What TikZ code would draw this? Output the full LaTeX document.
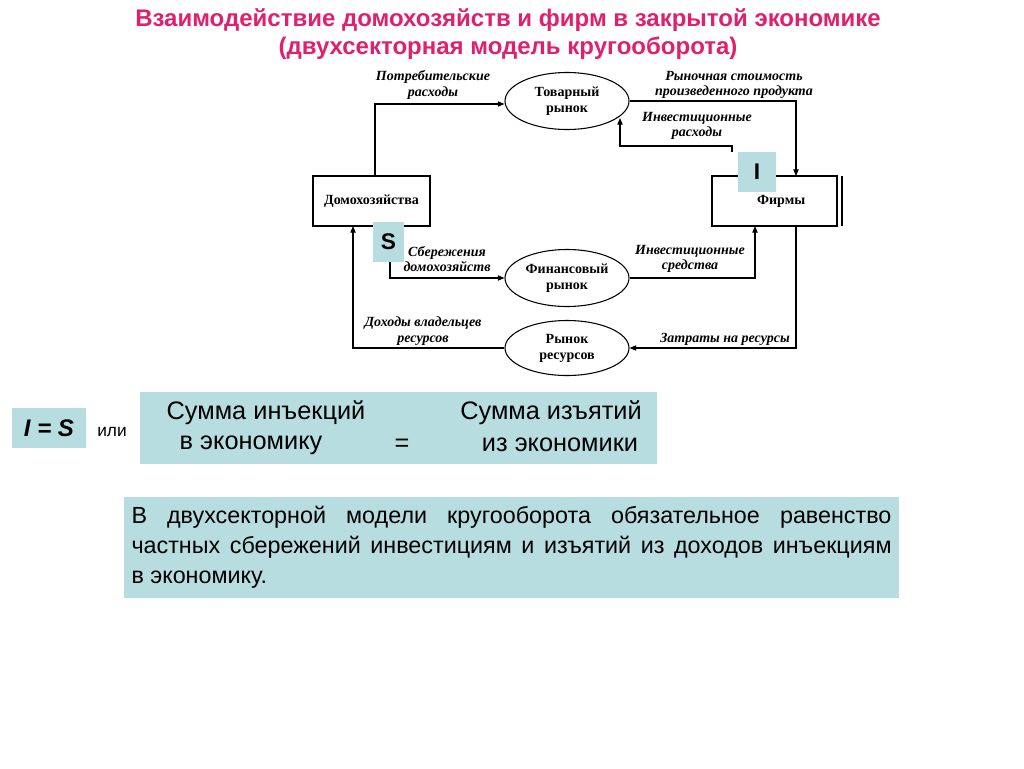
\documentclass[tikz,border=0pt]{standalone}
\usepackage{fontspec}
\setmainfont{Liberation Sans}
\newfontfamily\ser{Liberation Serif}
\usetikzlibrary{arrows.meta,shapes.geometric}
\definecolor{ttl}{HTML}{E0206E}
\definecolor{cyanbg}{HTML}{B7DDE0}
\begin{document}
\begin{tikzpicture}[x=0.75pt,y=-0.75pt,
  lab/.style={font=\ser\bfseries\itshape\fontsize{10.5}{11.5}\selectfont,align=center,inner sep=0},
  box/.style={draw,thick,fill=white,font=\ser\bfseries\fontsize{10.5}{12}\selectfont},
  ell/.style={draw,thick,ellipse,fill=white,font=\ser\bfseries\fontsize{10.5}{12}\selectfont,align=center,minimum width=124*0.75pt,minimum height=57*0.75pt,inner sep=0},
  arr/.style={thick,-{Triangle[length=5pt,width=4pt]}},
  tag/.style={fill=cyanbg,font=\bfseries\fontsize{17}{17}\selectfont,inner sep=0}]
\useasboundingbox (0,0) rectangle (1024,768);
\node[font=\bfseries\fontsize{18}{21}\selectfont,text=ttl,align=center] (title) at (508,34)
 {Взаимодействие домохозяйств и фирм в закрытой экономике\\(двухсекторная модель кругооборота)};
\node[box,minimum width=117*0.75pt,minimum height=50*0.75pt] (hh) at (371.5,201) {Домохозяйства};
\node[box,minimum width=125*0.75pt,minimum height=50*0.75pt] (ff) at (774.5,201) {\hspace*{10pt}Фирмы};
\draw[thick] (842,176) -- (842,226);
\node[ell] (gm) at (567,101) {Товарный\\рынок};
\node[ell] (fm) at (567,278) {Финансовый\\рынок};
\node[ell,minimum height=55*0.75pt] (rm) at (567,348) {Рынок\\ресурсов};
\node[tag,minimum width=31*0.75pt,minimum height=40*0.75pt] (S) at (388.5,242) {S};
\node[tag,minimum width=38*0.75pt,minimum height=40*0.75pt] (I) at (757,172) {I};
\draw[arr] (375,176) -- (375,104) -- (gm.west |- 0,104);
\draw[arr] (gm.east) -- (796,101) -- (796,176);
\draw[arr] (732,152) -- (732,146) -- (620,146) -- (620,118);
\draw[arr] (390,262) -- (390,278) -- (fm.west);
\draw[arr] (fm.east) -- (755,278) -- (755,226);
\draw[arr] (796,226) -- (796,348) -- (rm.east);
\draw[arr] (rm.west) -- (353,348) -- (353,226);
\node[lab] at (433,85) {Потребительские\\расходы};
\node[lab] at (734,85) {Рыночная стоимость\\произведенного продукта};
\node[lab] at (697,126) {Инвестиционные\\расходы};
\node[lab] at (447,259) {Сбережения\\домохозяйств};
\node[lab] at (690,259) {Инвестиционные\\средства};
\node[lab] at (423,331) {Доходы владельцев\\ресурсов};
\node[lab] at (725,339) {Затраты на ресурсы};
\node[fill=cyanbg,minimum width=74*0.75pt,minimum height=40*0.75pt,font=\bfseries\itshape\fontsize{18}{18}\selectfont,inner sep=0] (is) at (49,428) {I = S};
\node[font=\fontsize{13}{13}\selectfont] (ili) at (112,432) {или};
\node[fill=cyanbg,minimum width=517*0.75pt,minimum height=72*0.75pt] (eq) at (398.5,428) {};
\begin{scope}[every node/.style={font=\fontsize{19}{19}\selectfont}]
\node at (266,413) {Сумма инъекций};
\node at (251,445) {в экономику};
\node at (551,413) {Сумма изъятий};
\node at (560,445) {из экономики};
\node at (402,445) {=};
\end{scope}
\node[fill=cyanbg,minimum width=775*0.75pt,minimum height=101*0.75pt,text width=760*0.75pt,align=justify,font=\fontsize{17.5}{22.5}\selectfont,inner sep=0] (txt) at (511.5,547.5)
 {В двухсекторной модели кругооборота обязательное равенство частных сбережений инвестициям и изъятий из доходов инъекциям в экономику.};
\end{tikzpicture}
\end{document}
